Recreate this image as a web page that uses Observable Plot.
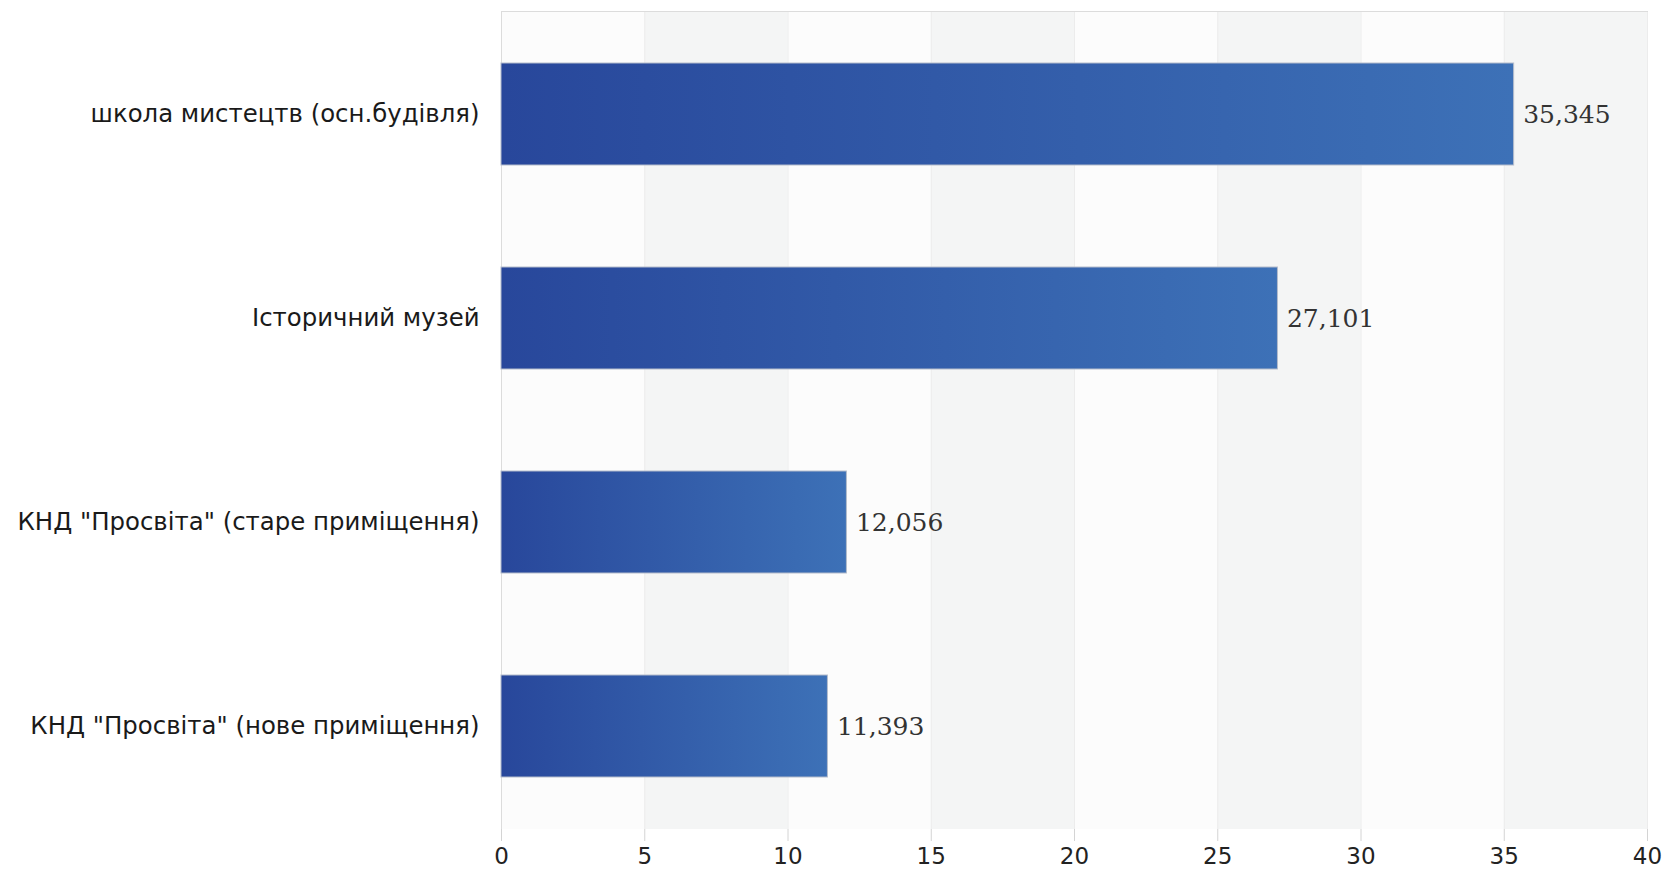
<!DOCTYPE html>
<html><head><meta charset="utf-8">
<script src="https://cdn.jsdelivr.net/npm/d3@7"></script>
<script src="https://cdn.jsdelivr.net/npm/@observablehq/plot@0.6"></script>
<style>body{margin:0;background:#fff}</style>
</head><body><div id="chart"></div>
<script>
const categories = [
  "школа мистецтв (осн.будівля)",
  "Історичний музей",
  "КНД \"Просвіта\" (старе приміщення)",
  "КНД \"Просвіта\" (нове приміщення)"
];
const values = [35.345, 27.101, 12.056, 11.393];
const xTicks = [0, 5, 10, 15, 20, 25, 30, 35, 40];

const data = categories.map((c, i) => ({category: c, value: values[i]}));
const bands = xTicks.slice(0, -1).map((t, i) => ({x1: t, x2: xTicks[i + 1], shade: i % 2 === 1}));
const fmt = v => d3.format(".3f")(v).replace(".", ",");

const chart = Plot.plot({
  width: 1673, height: 869,
  marginLeft: 501, marginRight: 26, marginTop: 11, marginBottom: 40,
  style: {fontFamily: "DejaVu Sans", fontSize: "23px", background: "#fff", color: "#222"},
  x: {domain: [0, 40], ticks: xTicks},
  y: {domain: categories, paddingInner: 0.5, paddingOuter: 0.25},
  marks: [
    Plot.rect(bands.filter(d => !d.shade), {x1: "x1", x2: "x2", fill: "#fcfcfc"}),
    Plot.rect(bands.filter(d => d.shade), {x1: "x1", x2: "x2", fill: "#f4f5f5"}),
    Plot.ruleX(xTicks, {stroke: "#ececec"}),
    Plot.frame({anchor: "top", stroke: "#dcdcdc"}),
    Plot.frame({anchor: "left", stroke: "#dcdcdc"}),
    Plot.barX(data, {y: "category", x: "value", fill: "url(#barGrad)", stroke: "#b4bccb", strokeWidth: 1}),
    Plot.text(data, {y: "category", x: "value", text: d => fmt(d.value), textAnchor: "start", dx: 9,
      fontFamily: "DejaVu Serif", fontSize: 25, fill: "#333"}),
    Plot.axisX({ticks: xTicks, tickSize: 12, tickPadding: 6, stroke: "#d4d4d4", fill: "#222", label: null}),
    Plot.ruleY([0], {frameAnchor: "bottom", stroke: "#c8c8c8"}),
    Plot.axisY({tickSize: 0, tickPadding: 22, label: null, fill: "#1a1a1a", fontSize: 24.4})
  ]
});

const svg = d3.select(chart);
const grad = svg.insert("defs", ":first-child").append("linearGradient")
  .attr("id", "barGrad").attr("x1", 0).attr("x2", 1).attr("y1", 0).attr("y2", 0);
grad.append("stop").attr("offset", "0%").attr("stop-color", "#28479b");
grad.append("stop").attr("offset", "100%").attr("stop-color", "#3d71b7");

document.getElementById("chart").appendChild(chart);
</script>
</body></html>
